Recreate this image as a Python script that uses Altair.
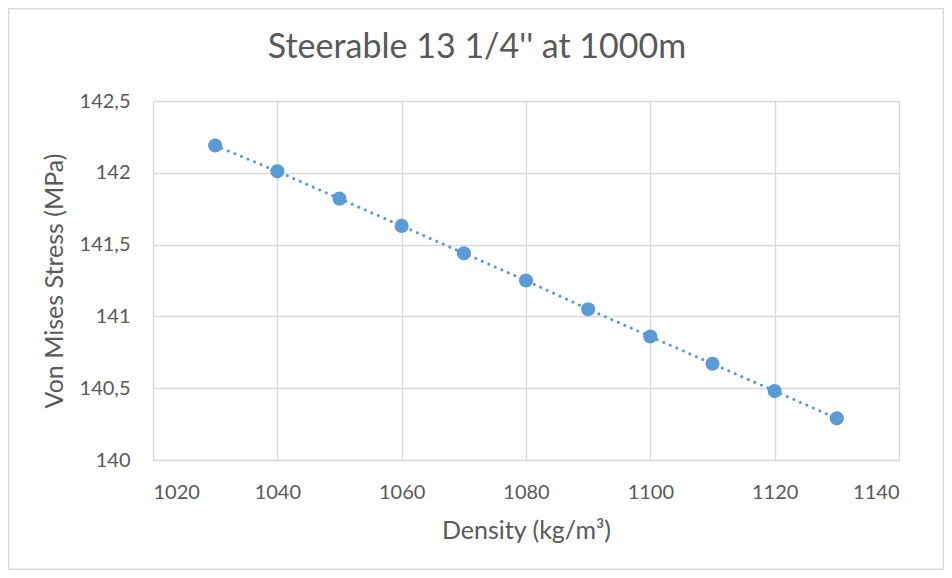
import altair as alt
import pandas as pd

density = [1030, 1040, 1050, 1060, 1070, 1080, 1090, 1100, 1110, 1120, 1130]
stress = [142.19, 142.01, 141.82, 141.63, 141.44, 141.25, 141.05, 140.86, 140.67, 140.48, 140.29]
x_ticks = [1020, 1040, 1060, 1080, 1100, 1120, 1140]
y_ticks = [140, 140.5, 141, 141.5, 142, 142.5]
title_text = ["Steerable 13 1/4'' at 1000m"]

df = pd.DataFrame({"density": density, "stress": stress})

BLUE = "#5b9bd5"
GRID = "#d9d9d9"
TEXT = "#595959"
FONT = "Lato"

x_enc = alt.X(
    "density:Q",
    scale=alt.Scale(domain=[1020, 1140], nice=False, zero=False),
    axis=alt.Axis(
        values=x_ticks, format="d", title="Density (kg/m³)",
        grid=True, gridColor=GRID, gridWidth=1.3, domain=False, ticks=False,
        labelFont=FONT, labelFontSize=20, labelColor=TEXT, labelPadding=22,
        titleFont=FONT, titleFontSize=25, titleFontWeight="normal", titleColor=TEXT,
        titleBaseline="alphabetic", titleY=78,
    ),
)
y_enc = alt.Y(
    "stress:Q",
    scale=alt.Scale(domain=[140, 142.5], nice=False, zero=False),
    axis=alt.Axis(
        values=y_ticks, labelExpr="replace(toString(datum.value), '.', ',')",
        title="Von Mises Stress (MPa)",
        grid=True, gridColor=GRID, gridWidth=1.3, domain=False, ticks=False,
        labelFont=FONT, labelFontSize=20, labelColor=TEXT, labelPadding=23,
        titleFont=FONT, titleFontSize=25, titleFontWeight="normal", titleColor=TEXT,
        titleBaseline="alphabetic", titleX=-91, titleY=179.5, titleAngle=-90,
        titleAlign="center",
    ),
)

frame = alt.Chart(alt.Data(values=[{"k": 0}])).mark_rect(
    fill=None, stroke=GRID, strokeWidth=1.5, clip=False
).encode(
    x=alt.value(-144.25), x2=alt.value(746 + 44.25),
    y=alt.value(-92.25), y2=alt.value(359 + 109.25),
)

title = alt.Chart(alt.Data(values=[{"t": t} for t in title_text])).mark_text(
    font=FONT, fontSize=34, fontWeight="normal", color=TEXT,
    align="center", baseline="alphabetic",
).encode(text="t:N", x=alt.value(324), y=alt.value(-43))

line = alt.Chart(df).mark_line(
    color=BLUE, strokeWidth=3, strokeDash=[0.1, 7], strokeCap="round"
).encode(x=x_enc, y=y_enc)

points = alt.Chart(df).mark_point(
    filled=True, color=BLUE, size=200, opacity=1, shape="circle"
).encode(x="density:Q", y="stress:Q")

chart = alt.layer(frame, title, line, points).properties(
    width=746, height=359,
    padding={"left": 145, "top": 93, "right": 45, "bottom": 110},
    autosize=alt.AutoSizeParams(type="none"),
).configure_view(stroke=None).configure(background="white")

chart.save("out.html", embed_options={"renderer": "svg", "actions": False})
